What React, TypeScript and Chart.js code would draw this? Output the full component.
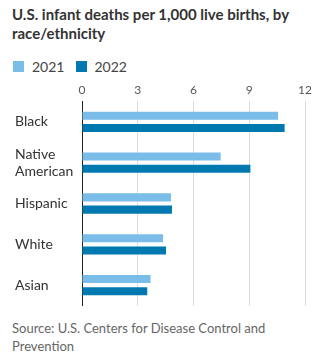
import React, { useEffect, useRef } from "react";
import { Chart, registerables } from "chart.js";

Chart.register(...registerables);

const categories: (string | string[])[] = ["Black", ["Native", "American"], "Hispanic", "White", "Asian"];
const values2021 = [10.55, 7.46, 4.79, 4.36, 3.69];
const values2022 = [10.9, 9.06, 4.84, 4.52, 3.51];
const seriesLabels = ["2021", "2022"];
const xTicks = [0, 3, 6, 9, 12];

const COLOR_2021 = "#79bde8";
const COLOR_2022 = "#0079b0";
const FONT = "Lato, 'Noto Sans', sans-serif";

export default function App() {
  const ref = useRef<HTMLCanvasElement | null>(null);

  useEffect(() => {
    if (!ref.current) return;
    const chart = new Chart(ref.current, {
      type: "bar",
      data: {
        labels: categories,
        datasets: [
          { label: seriesLabels[0], data: values2021, backgroundColor: COLOR_2021 },
          { label: seriesLabels[1], data: values2022, backgroundColor: COLOR_2022 },
        ],
      },
      options: {
        indexAxis: "y",
        animation: false,
        responsive: false,
        maintainAspectRatio: false,
        layout: { padding: { left: 7, right: 6, top: 1, bottom: 0 } },
        plugins: { legend: { display: false }, tooltip: { enabled: false } },
        datasets: { bar: { categoryPercentage: 0.6, barPercentage: 0.66 } },
        scales: {
          x: {
            position: "top",
            min: 0,
            max: 12,
            afterBuildTicks: (s: any) => {
              s.ticks = xTicks.map((v) => ({ value: v }));
            },
            grid: { color: "#dcdcdc", drawTicks: false, lineWidth: 1 },
            border: { display: false },
            ticks: {
              padding: 4,
              color: "#555",
              font: { family: FONT, size: 12 },
            },
          },
          y: {
            grid: { display: false },
            border: { display: true, color: "#222", width: 1 },
            afterFit: (s: any) => {
              s.width = 67;
            },
            ticks: {
              crossAlign: "far",
              color: "#333",
              padding: 0,
              font: { family: FONT, size: 14 },
            },
          },
        },
      },
    });
    return () => chart.destroy();
  }, []);

  return (
    <div style={{ position: "relative", width: 308, height: 345, fontFamily: FONT }}>
      <div
        style={{
          position: "absolute",
          left: 4,
          top: -3,
          width: 300,
          fontSize: 15,
          lineHeight: "19px",
          fontWeight: 700,
          color: "#333",
        }}
      >
        U.S. infant deaths per 1,000 live births, by race/ethnicity
      </div>
      <div style={{ position: "absolute", left: 5, top: 50, display: "flex", alignItems: "center", fontSize: 14, color: "#444" }}>
        <span style={{ width: 11, height: 11, background: COLOR_2021, display: "inline-block" }} />
        <span style={{ marginLeft: 8 }}>{seriesLabels[0]}</span>
        <span style={{ width: 11, height: 11, background: COLOR_2022, display: "inline-block", marginLeft: 12 }} />
        <span style={{ marginLeft: 7 }}>{seriesLabels[1]}</span>
      </div>
      <canvas ref={ref} width={308} height={236} style={{ position: "absolute", left: 0, top: 70 }} />
      <div
        style={{
          position: "absolute",
          left: 4,
          top: 311,
          width: 262,
          fontSize: 13,
          lineHeight: "18px",
          color: "#666",
        }}
      >
        Source: U.S. Centers for Disease Control and Prevention
      </div>
    </div>
  );
}
